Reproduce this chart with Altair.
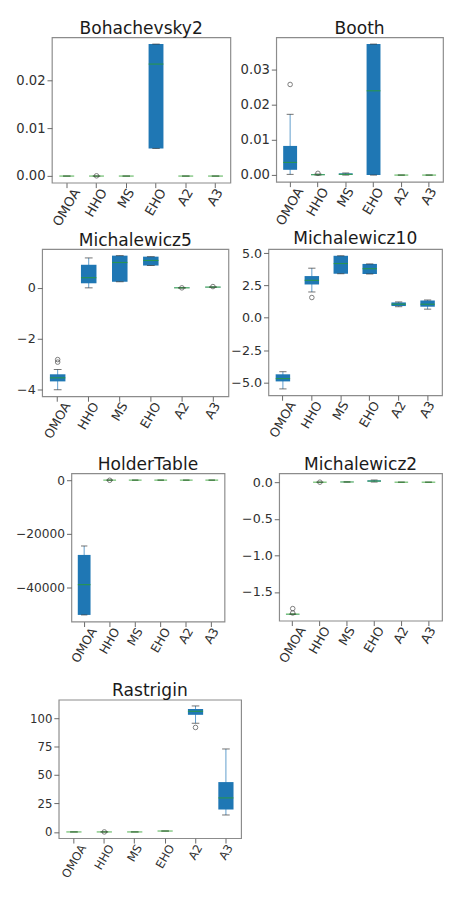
import altair as alt
import pandas as pd

ALGS = ["OMOA", "HHO", "MS", "EHO", "A2", "A3"]

# ---- Bohachevsky2 ----
boh_lo = [0.0, 0.0, 0.0, 0.0058, 0.0, 0.0]
boh_q1 = [0.0, 0.0, 0.0, 0.0058, 0.0, 0.0]
boh_med = [0.0, 0.0, 0.0, 0.0235, 0.0, 0.0]
boh_q3 = [0.0, 0.0, 0.0, 0.0277, 0.0, 0.0]
boh_hi = [0.0, 0.0, 0.0, 0.0277, 0.0, 0.0]
boh_out_alg = ["HHO"]
boh_out_val = [0.00005]

# ---- Booth ----
booth_lo = [0.0002, 0.0, 0.0, 0.0, 0.0, 0.0]
booth_q1 = [0.0015, 0.0, 0.0001, 0.0, 0.0, 0.0]
booth_med = [0.0036, 0.0001, 0.0002, 0.0240, 0.0, 0.0]
booth_q3 = [0.0083, 0.0002, 0.0005, 0.0373, 0.0, 0.0]
booth_hi = [0.0173, 0.0003, 0.0006, 0.0373, 0.0, 0.0]
booth_out_alg = ["OMOA", "HHO"]
booth_out_val = [0.0258, 0.0005]

# ---- Michalewicz5 ----
m5_lo = [-4.02, 0.00, 0.24, 0.88, -0.01, 0.02]
m5_q1 = [-3.69, 0.18, 0.24, 0.88, -0.01, 0.02]
m5_med = [-3.55, 0.40, 1.00, 1.08, 0.00, 0.03]
m5_q3 = [-3.41, 0.91, 1.27, 1.23, 0.01, 0.04]
m5_hi = [-3.22, 1.18, 1.27, 1.23, 0.01, 0.04]
m5_out_alg = ["OMOA", "OMOA", "A2", "A3"]
m5_out_val = [-2.83, -2.93, 0.0, 0.05]

# ---- Michalewicz10 ----
m10_lo = [-5.50, 2.00, 3.41, 3.39, 0.86, 0.67]
m10_q1 = [-4.92, 2.58, 3.41, 3.39, 0.91, 0.86]
m10_med = [-4.70, 2.90, 4.20, 3.80, 1.05, 1.05]
m10_q3 = [-4.37, 3.23, 4.80, 4.17, 1.19, 1.34]
m10_hi = [-4.17, 3.84, 4.80, 4.17, 1.23, 1.38]
m10_out_alg = ["HHO"]
m10_out_val = [1.57]

# ---- HolderTable ----
ht_lo = [-50050, 0, 0, 0, 0, 0]
ht_q1 = [-50050, 0, 0, 0, 0, 0]
ht_med = [-38800, 0, 0, 0, 0, 0]
ht_q3 = [-27770, 0, 0, 0, 0, 0]
ht_hi = [-24450, 0, 0, 0, 0, 0]
ht_out_alg = ["HHO"]
ht_out_val = [-60]

# ---- Michalewicz2 ----
m2_lo = [-1.801, 0.0, 0.0, 0.002, 0.0, 0.0]
m2_q1 = [-1.801, 0.0, 0.001, 0.008, 0.0, 0.0]
m2_med = [-1.801, 0.0, 0.003, 0.015, 0.0, 0.0]
m2_q3 = [-1.800, 0.0, 0.005, 0.025, 0.0, 0.0]
m2_hi = [-1.800, 0.0, 0.006, 0.030, 0.0, 0.0]
m2_out_alg = ["OMOA", "OMOA", "HHO"]
m2_out_val = [-1.725, -1.785, 0.0]

# ---- Rastrigin ----
ra_lo = [0.0, 0.0, 0.0, 0.8, 95.5, 14.9]
ra_q1 = [0.0, 0.0, 0.0, 0.8, 102.9, 19.7]
ra_med = [0.0, 0.0, 0.0, 0.8, 106.0, 29.9]
ra_q3 = [0.0, 0.0, 0.0, 0.8, 108.0, 43.8]
ra_hi = [0.0, 0.0, 0.0, 0.8, 110.7, 72.9]
ra_out_alg = ["HHO", "A2"]
ra_out_val = [0.0, 91.8]

C0 = "#1f77b4"
C2 = "#2ca02c"
WHISK = "#5f9ccc"
TXT = "#303030"
FRAME = "#8c8c8c"
FONT = "DejaVu Sans"
TFS = 17.5
TOFF = 0
# approximate label widths in em (DejaVu Sans) used to centre rotated labels
LABEL_EM = {"OMOA": 3.12, "HHO": 2.29, "MS": 1.50, "EHO": 2.17, "A2": 1.32, "A3": 1.32}


def panel(title, lo, q1, med, q3, hi, out_alg, out_val, domain, ticks, fmt,
          W, H, yext, fs):
    df = pd.DataFrame({"alg": ALGS, "lo": lo, "q1": q1, "med": med, "q3": q3, "hi": hi})
    odf = pd.DataFrame({"alg": out_alg, "v": out_val})
    offs = [{"test": f"datum.value === '{a}'", "value": round(LABEL_EM[a] * fs / 4, 1)}
            for a in ALGS]
    xaxis = alt.Axis(title=None, labelAngle=-60, labelAlign="right", labelBaseline="middle",
                     labelFontSize=fs, labelColor=TXT, labelFont=FONT, tickColor="#666",
                     tickSize=5, labelPadding=2, domain=False,
                     labelOffset={"condition": offs, "value": 0})
    xenc = alt.X("alg:N", sort=ALGS,
                 scale=alt.Scale(domain=ALGS, paddingInner=0, paddingOuter=0),
                 axis=xaxis)
    yscale = alt.Scale(domain=domain, nice=False, zero=False)
    yaxis = alt.Axis(title=None, values=ticks, format=fmt, labelFontSize=fs,
                     labelColor=TXT, labelFont=FONT, tickColor="#666", tickSize=5,
                     labelPadding=2, domain=False, grid=False,
                     minExtent=yext, maxExtent=yext)
    base = alt.Chart(df)
    whisk = base.mark_rule(color=WHISK, strokeWidth=1).encode(
        x=xenc, y=alt.Y("lo:Q", scale=yscale, axis=yaxis), y2="hi:Q")
    box = base.mark_bar(width=alt.RelativeBandSize(0.5), color=C0).encode(
        x=xenc, y=alt.Y("q1:Q", scale=yscale, axis=yaxis), y2="q3:Q")
    caplo = base.mark_tick(color="#333", size=W / 24, thickness=1).encode(
        x=xenc, y=alt.Y("lo:Q", scale=yscale, axis=yaxis))
    caphi = base.mark_tick(color="#333", size=W / 24, thickness=1).encode(
        x=xenc, y=alt.Y("hi:Q", scale=yscale, axis=yaxis))
    medt = base.mark_tick(color=C2, size=W / 12, thickness=1.2).encode(
        x=xenc, y=alt.Y("med:Q", scale=yscale, axis=yaxis))
    outp = alt.Chart(odf).mark_point(shape="circle", filled=False, color="#444",
                                     size=22, strokeWidth=1).encode(
        x=xenc, y=alt.Y("v:Q", scale=yscale, axis=yaxis))
    return alt.layer(whisk, box, caplo, caphi, medt, outp).properties(
        width=W, height=H,
        title=alt.TitleParams(text=title, fontSize=TFS, font=FONT, fontWeight="normal",
                              color="#1a1a1a", offset=TOFF, anchor="middle"))


def spacer(w):
    return alt.Chart(pd.DataFrame({"s": [0]})).mark_point(opacity=0).properties(
        width=w, height=10, view=alt.ViewBackground(strokeOpacity=0))


boh = panel("Bohachevsky2", boh_lo, boh_q1, boh_med, boh_q3, boh_hi, boh_out_alg, boh_out_val,
            [-0.0014, 0.0291], [0, 0.01, 0.02], ".2f", 183, 149, 36, 13.5)
booth = panel("Booth", booth_lo, booth_q1, booth_med, booth_q3, booth_hi, booth_out_alg,
              booth_out_val, [-0.0019, 0.0392], [0, 0.01, 0.02, 0.03], ".2f",
              171, 148, 45, 13.5)
m5 = panel("Michalewicz5", m5_lo, m5_q1, m5_med, m5_q3, m5_hi, m5_out_alg, m5_out_val,
           [-4.28, 1.53], [-4, -2, 0], "d", 191, 151, 27, 13)
m10 = panel("Michalewicz10", m10_lo, m10_q1, m10_med, m10_q3, m10_hi, m10_out_alg, m10_out_val,
            [-6.0, 5.32], [-5, -2.5, 0, 2.5, 5], ".1f", 178, 150, 39, 13)
ht = panel("HolderTable", ht_lo, ht_q1, ht_med, ht_q3, ht_hi, ht_out_alg, ht_out_val,
           [-52550, 2500], [-40000, -20000, 0], "d", 157, 152, 57, 12.5)
m2 = panel("Michalewicz2", m2_lo, m2_q1, m2_med, m2_q3, m2_hi, m2_out_alg, m2_out_val,
           [-1.89, 0.12], [-1.5, -1.0, -0.5, 0.0], ".1f", 167, 151, 54, 13)
ra = panel("Rastrigin", ra_lo, ra_q1, ra_med, ra_q3, ra_hi, ra_out_alg, ra_out_val,
           [-5.5, 116.2], [0, 25, 50, 75, 100], "d", 187, 142, 40, 12)

row1 = alt.hconcat(spacer(1), boh, booth, spacing=0)
row2 = alt.hconcat(spacer(1), m5, m10, spacing=0)
row3 = alt.hconcat(spacer(1), ht, m2, spacing=0)
row4 = alt.hconcat(spacer(8), ra, spacing=0)

lower = alt.concat(row3, row4, columns=1, align="none", spacing=15)
middle = alt.concat(row2, lower, columns=1, align="none", spacing=13)
chart = alt.concat(row1, middle, columns=1, align="none", spacing=0).properties(
    padding=0
).configure(background="white").configure_view(stroke=FRAME, strokeWidth=1.2)

chart.save("out.html", embed_options={"renderer": "svg", "actions": False})
